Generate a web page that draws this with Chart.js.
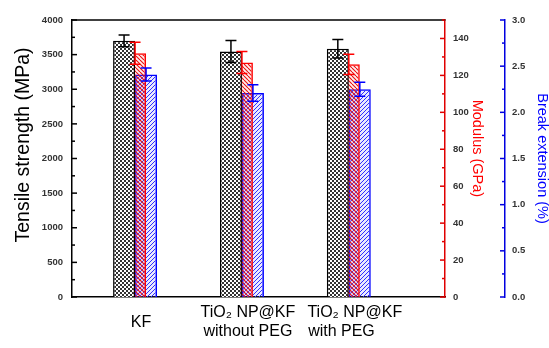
<!DOCTYPE html>
<html><head><meta charset="utf-8">
<script src="https://cdn.jsdelivr.net/npm/chart.js@4/dist/chart.umd.min.js"></script>
<style>html,body{margin:0;padding:0;background:#fff}</style>
</head><body>
<canvas id="c" width="549" height="348"></canvas>
<script>
// ---- data ----
const categories = [["KF"], ["TiO₂ NP@KF", "without PEG"], ["TiO₂ NP@KF", "with PEG      "]];
const tensile = [3700, 3545, 3585];
const tensileErr = [85, 160, 135];
const modulus = [132, 127, 126];
const modulusErr = [6, 6, 5.5];
const breakExt = [2.41, 2.21, 2.25];
const breakErr = [0.07, 0.09, 0.075];
const tensileTicks = [0, 4000, 500];
const modulusTicks = [0, 150, 20];
const breakTicks = [0, 3, 0.5];

function makePattern(size, draw) {
  const c = document.createElement('canvas');
  c.width = c.height = size;
  const g = c.getContext('2d');
  draw(g, size);
  return g.createPattern(c, 'repeat');
}
const blackPat = makePattern(4, (g, s) => {
  g.fillStyle = '#fff'; g.fillRect(0, 0, s, s);
  g.fillStyle = '#333'; g.fillRect(0, 0, 2, 2); g.fillRect(2, 2, 2, 2);
});
const redPat = makePattern(4, (g, s) => {
  g.fillStyle = 'rgba(255,120,120,0.12)'; g.fillRect(0, 0, s, s);
  g.strokeStyle = '#e81010'; g.lineWidth = 1.1;
  for (const o of [-s, 0, s]) { g.beginPath(); g.moveTo(o, 0); g.lineTo(o + s, s); g.stroke(); }
});
const bluePat = makePattern(4, (g, s) => {
  g.fillStyle = 'rgba(110,110,255,0.15)'; g.fillRect(0, 0, s, s);
  g.strokeStyle = '#3030ff'; g.lineWidth = 1.0;
  for (const o of [-s, 0, s]) { g.beginPath(); g.moveTo(o, s); g.lineTo(o + s, 0); g.stroke(); }
});

const xs = categories.map((c, i) => i + 1);
const errs = [tensileErr, modulusErr, breakErr];

const tickFont = {family: 'Liberation Sans', size: 9.5, weight: 'bold'};

const decor = {
  id: 'decor',
  afterDatasetsDraw(chart) {
    const {ctx, chartArea: a, scales} = chart;
    ctx.save();
    ctx.lineCap = 'butt';
    ctx.strokeStyle = '#000'; ctx.lineWidth = 1.5;
    ctx.beginPath(); ctx.moveTo(a.left, a.top); ctx.lineTo(a.right + 0.5, a.top); ctx.stroke();
    const drawTicks = (scale, spec, x0, dir, color) => {
      const [mn, mx, step] = spec;
      ctx.strokeStyle = color; ctx.lineWidth = 1.5;
      for (let k = 0; mn + k * step / 2 <= mx + 1e-9; k++) {
        const v = mn + k * step / 2;
        const y = scale.getPixelForValue(v);
        const len = k % 2 === 0 ? 5 : 3;
        ctx.beginPath(); ctx.moveTo(x0, y); ctx.lineTo(x0 + dir * len, y); ctx.stroke();
      }
    };
    drawTicks(scales.y, tensileTicks, scales.y.right, 1, '#000');
    drawTicks(scales.y1, modulusTicks, scales.y1.left, -1, '#e00000');
    drawTicks(scales.y2, breakTicks, scales.y2.left, -1, '#0000e0');
    chart.data.datasets.forEach((ds, i) => {
      const meta = chart.getDatasetMeta(i);
      const ys = scales[ds.yAxisID];
      ctx.strokeStyle = ds.borderColor; ctx.lineWidth = 1.5;
      meta.data.forEach((bar, j) => {
        const v = ds.data[j].y, e = errs[i][j];
        const yt = ys.getPixelForValue(v + e), yb = ys.getPixelForValue(v - e);
        const x = bar.x;
        ctx.beginPath();
        ctx.moveTo(x, yt); ctx.lineTo(x, yb);
        ctx.moveTo(x - 5.5, yt); ctx.lineTo(x + 5.5, yt);
        ctx.moveTo(x - 5.5, yb); ctx.lineTo(x + 5.5, yb);
        ctx.stroke();
      });
    });
    ctx.restore();
  }
};

new Chart(document.getElementById('c'), {
  type: 'bar',
  data: {
    datasets: [
      {label: 'Tensile strength', data: xs.map((x, i) => ({x, y: tensile[i]})), yAxisID: 'y',
       backgroundColor: blackPat, borderColor: '#000', borderWidth: 1.5},
      {label: 'Modulus', data: xs.map((x, i) => ({x, y: modulus[i]})), yAxisID: 'y1',
       backgroundColor: redPat, borderColor: '#ff0000', borderWidth: 1.5},
      {label: 'Break extension', data: xs.map((x, i) => ({x, y: breakExt[i]})), yAxisID: 'y2',
       backgroundColor: bluePat, borderColor: '#0000ff', borderWidth: 1.5}
    ]
  },
  options: {
    responsive: false, animation: false, devicePixelRatio: 1,
    categoryPercentage: 33 / 107, barPercentage: 2,
    layout: {padding: {top: 20, left: 0, right: 0, bottom: 0}},
    plugins: {legend: {display: false}, tooltip: {enabled: false}},
    scales: {
      x: {
        type: 'linear', min: 0.41, max: 3.9, offset: false,
        grid: {display: false, drawTicks: false, offset: false},
        border: {display: true, color: '#000', width: 1.5},
        afterBuildTicks: s => { s.ticks = xs.map(v => ({value: v})); },
        afterFit: s => { s.height = 51; },
        ticks: {
          autoSkip: false, maxRotation: 0, minRotation: 0, crossAlign: 'center',
          padding: 16, labelOffset: 6, color: '#000',
          font: {family: 'Liberation Sans', size: 16, lineHeight: 1.15},
          callback: v => categories[Math.round(v) - 1]
        }
      },
      y: {
        position: 'left', min: tensileTicks[0], max: tensileTicks[1],
        grid: {display: false, drawTicks: false},
        border: {display: true, color: '#000', width: 1.5},
        afterFit: s => { s.width = 72; },
        ticks: {stepSize: tensileTicks[2], padding: 9, color: '#333', font: tickFont,
                callback: v => String(v)},
        title: {display: true, text: '     Tensile strength (MPa)', color: '#000',
                font: {family: 'Liberation Sans', size: 19.5}, padding: {top: 12, bottom: 0}}
      },
      y1: {
        position: 'right', min: modulusTicks[0], max: modulusTicks[1],
        grid: {display: false, drawTicks: false},
        border: {display: true, color: '#e00000', width: 1.5},
        afterFit: s => { s.width = 60; },
        ticks: {stepSize: modulusTicks[2], includeBounds: false, padding: 8, color: '#333', font: tickFont,
                callback: v => String(v)},
        title: {display: true, text: 'Modulus (GPa)     ', color: '#ff0000',
                font: {family: 'Liberation Sans', size: 14.5}, padding: {top: 19, bottom: 0}}
      },
      y2: {
        position: 'right', min: breakTicks[0], max: breakTicks[1],
        grid: {display: false, drawTicks: false},
        border: {display: true, color: '#0000e0', width: 1.5},
        afterFit: s => { s.width = 44; },
        ticks: {stepSize: breakTicks[2], padding: 7, color: '#333', font: tickFont,
                callback: v => Number(v).toFixed(1)},
        title: {display: true, text: 'Break extension (%)', color: '#0000ff',
                font: {family: 'Liberation Sans', size: 14.5}, padding: {top: -1.5, bottom: 0}}
      }
    }
  },
  plugins: [decor]
});
</script>
</body></html>
